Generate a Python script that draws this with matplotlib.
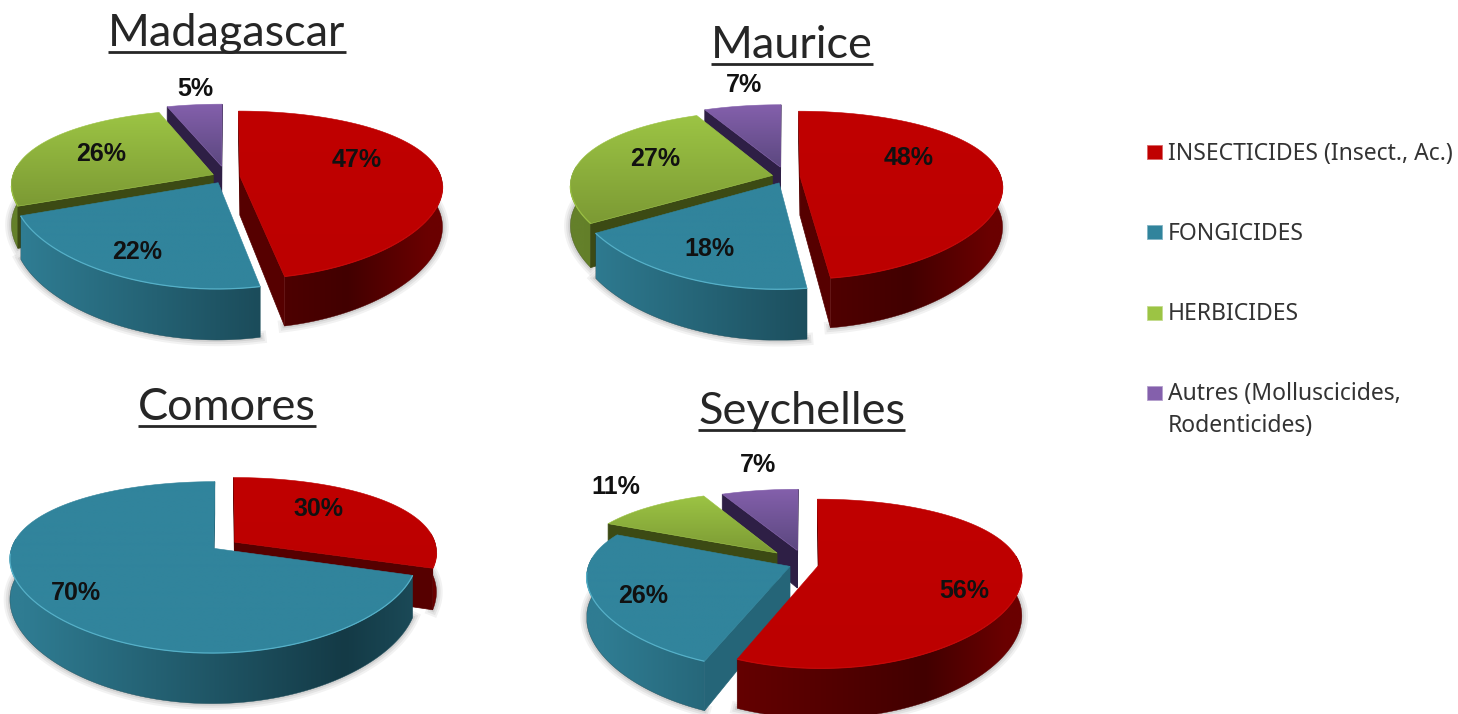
import numpy as np
import matplotlib
matplotlib.use('Agg')
import matplotlib.pyplot as plt
from matplotlib.colors import to_rgb
from matplotlib.patches import Polygon, Rectangle

# shares in percent, same order everywhere: insecticides, fongicides, herbicides, autres
countries = ['Madagascar', 'Maurice', 'Comores', 'Seychelles']
madagascar = [47, 22, 26, 5]
maurice = [48, 18, 27, 7]
comores = [30, 70, 0, 0]
seychelles = [56, 26, 11, 7]
shares = [madagascar, maurice, comores, seychelles]

legend_labels = ['INSECTICIDES (Insect., Ac.)', 'FONGICIDES', 'HERBICIDES',
                 'Autres (Molluscicides,\nRodenticides)']

# styles per category
top_hi = ['#c00000', '#31849c', '#9cc444', '#8460ac']
top_lo = ['#bc0000', '#31849c', '#7c9a34', '#5c4880']
edge_hi = ['#c40808', '#55b0c8', '#98be42', '#8460ac']
face_col = ['#560000', '#256578', '#3c4a14', '#2e1f45']
wall_left = ['#7c0000', '#2f7c92', '#64802a', '#4a3570']
wall_dark = ['#420000', '#143a46', '#3c4a14', '#2e1f45']
wall_right = ['#6a0000', '#1c4c5a', '#3c4a14', '#2e1f45']

# layout in pixels
RX, RY, PERSP_X, PERSP_Y, DEPTH = 201, 80, 0.12, 0.22, 39
layout = {
    'Madagascar': dict(c=(226, 177), explode=[.07, .08, .07, .14], order=[3, 2, 1, 0],
                       title=(227, 46), labels=[(357, 160), (137, 252), (101, 154), (195, 89)]),
    'Maurice': dict(c=(786, 177), explode=[.07, .08, .07, .13], order=[3, 2, 1, 0],
                    title=(792, 58), labels=[(909, 158), (709, 249), (655, 159), (744, 85)]),
    'Comores': dict(c=(225, 545), explode=[.06, .07, 0, 0], order=[0, 1],
                    title=(227, 420), labels=[(318, 509), (76, 593), None, None]),
    'Seychelles': dict(c=(805, 564), explode=[.07, .08, .2, .18], order=[3, 2, 1, 0],
                       title=(802, 424), labels=[(964, 591), (643, 596), (616, 487), (758, 465)]),
}

fig = plt.figure(figsize=(14.58, 7.14), dpi=100)
ax = fig.add_axes([0, 0, 1, 1])
ax.axis('off')
z = [1]


def nextz():
    z[0] += 1
    return z[0]


def mix(c1, c2, t):
    a, b = np.array(to_rgb(c1)), np.array(to_rgb(c2))
    return a + (b - a) * t


def wall_colour(k, u):
    if u < 0.6:
        return mix(wall_left[k], wall_dark[k], np.clip((u + 1) / 1.6, 0, 1))
    return mix(wall_dark[k], wall_right[k], min((u - 0.6) / 0.4, 1))


def project(cx, cy, u, v):
    wx = 1 / (1 - PERSP_X * v)
    wy = 1 / (1 - PERSP_Y * v)
    return cx + RX * u * wx, cy + RY * v * wy, wy


def clipped_image(rgb, outline):
    # paint an image only inside the polygon
    x0, x1 = outline[:, 0].min(), outline[:, 0].max()
    y0, y1 = outline[:, 1].min(), outline[:, 1].max()
    im = ax.imshow(rgb, extent=(x0, x1, y1, y0), aspect='auto', zorder=nextz(), interpolation='bilinear')
    clip = Polygon(outline, closed=True, transform=ax.transData, fc='none', ec='none')
    ax.add_patch(clip)
    im.set_clip_path(clip)


def draw_slice(cx, cy, a0, a1, e, k):
    mid = (a0 + a1) / 2
    u0 = e * np.sin(mid)
    v0 = -e * np.cos(mid)
    ang = np.linspace(a0, a1, max(int(np.degrees(a1 - a0)) * 2, 8))
    u = u0 + np.sin(ang)
    v = v0 - np.cos(ang)
    sx, sy, w = project(cx, cy, u, v)
    ax0, ay0, aw = project(cx, cy, u0, v0)

    # the outer wall only where it looks at the viewer
    vis = -np.cos(ang) > -0.12
    if vis.sum() > 1:
        wx, wy, ww = sx[vis], sy[vis], w[vis]
        wall = np.column_stack([np.r_[wx, wx[::-1]], np.r_[wy, (wy + DEPTH * ww)[::-1]]])
        # soft shadow under the wall
        for lw, al in [(9, .05), (6, .06), (3, .08)]:
            ax.plot(wx, wy + DEPTH * ww, color='black', lw=lw, alpha=al, zorder=0.5)
        xs = np.linspace(wall[:, 0].min(), wall[:, 0].max(), 128)
        shade = np.array([wall_colour(k, (x - cx) / RX) for x in xs])[None, :, :]
        clipped_image(shade, wall)
        ax.add_patch(Polygon(wall, closed=True, fc='none', ec=tuple(wall_colour(k, 0.2)), lw=.3, zorder=nextz()))

    # the two cut faces, only when they look at the viewer
    for i, nb in [(0, a0 - np.pi / 2), (-1, a1 + np.pi / 2)]:
        if -np.cos(nb) > -0.02:
            pts = [(ax0, ay0), (sx[i], sy[i]), (sx[i], sy[i] + DEPTH * w[i]), (ax0, ay0 + DEPTH * aw)]
            ax.add_patch(Polygon(pts, closed=True, fc=face_col[k], ec=face_col[k], lw=.5, zorder=nextz()))

    # top face with a vertical gradient
    outline = np.column_stack([np.r_[ax0, sx], np.r_[ay0, sy]])
    ramp = np.linspace(0, 1, 64)[:, None, None]
    grad = np.array(to_rgb(top_hi[k]))[None, None, :] * (1 - ramp) + np.array(to_rgb(top_lo[k]))[None, None, :] * ramp
    clipped_image(grad, outline)
    ax.add_patch(Polygon(outline, closed=True, fc='none', ec=top_hi[k], lw=.4, zorder=nextz()))

    # light rim on the front edge
    front = v > 0.1
    ax.plot(sx[front], sy[front], color=edge_hi[k], lw=.9, solid_capstyle='butt', zorder=nextz())


for name, vals in zip(countries, shares):
    lay = layout[name]
    cx, cy = lay['c']
    edges = np.cumsum([0] + vals) / 100 * 2 * np.pi
    for k in lay['order']:
        if vals[k] > 0:
            draw_slice(cx, cy, edges[k], edges[k + 1], lay['explode'][k], k)
    for k, v in enumerate(vals):
        if v > 0:
            lx, ly = lay['labels'][k]
            ax.text(lx, ly, f'{v}%', ha='center', va='center', fontsize=18, fontweight='bold',
                    family='Liberation Sans', color='#111111', zorder=500)
    tx, ty = lay['title']
    ax.text(tx, ty, name, ha='center', va='baseline', fontsize=32.5, family='Lato',
            color='#262626', zorder=500)

ax.set_xlim(0, 1458)
ax.set_ylim(714, 0)

# underline the titles from their measured width
fig.canvas.draw()
rend = fig.canvas.get_renderer()
for t in list(ax.texts):
    if t.get_text() in countries:
        bb = t.get_window_extent(rend)
        x, y = t.get_position()
        ax.plot([bb.x0, bb.x1], [y + 6, y + 6], color='#262626', lw=2, solid_capstyle='butt', zorder=500)

# legend
legend_y = [151.5, 232, 312.5, 392.5]
for k, label in enumerate(legend_labels):
    y = legend_y[k]
    ax.add_patch(Rectangle((1147, y - 7), 15, 14, fc=top_hi[k], ec=tuple(mix(top_hi[k], '#ffffff', .4)), lw=.6, zorder=500))
    for n, line in enumerate(label.split('\n')):
        ax.text(1168, y + 8 + n * 31, line, ha='left', va='baseline', fontsize=16.5, family='Noto Sans',
                color='#333333', zorder=500)

ax.set_xlim(0, 1458)
ax.set_ylim(714, 0)
fig.savefig('out.png', dpi=100, facecolor='white')
